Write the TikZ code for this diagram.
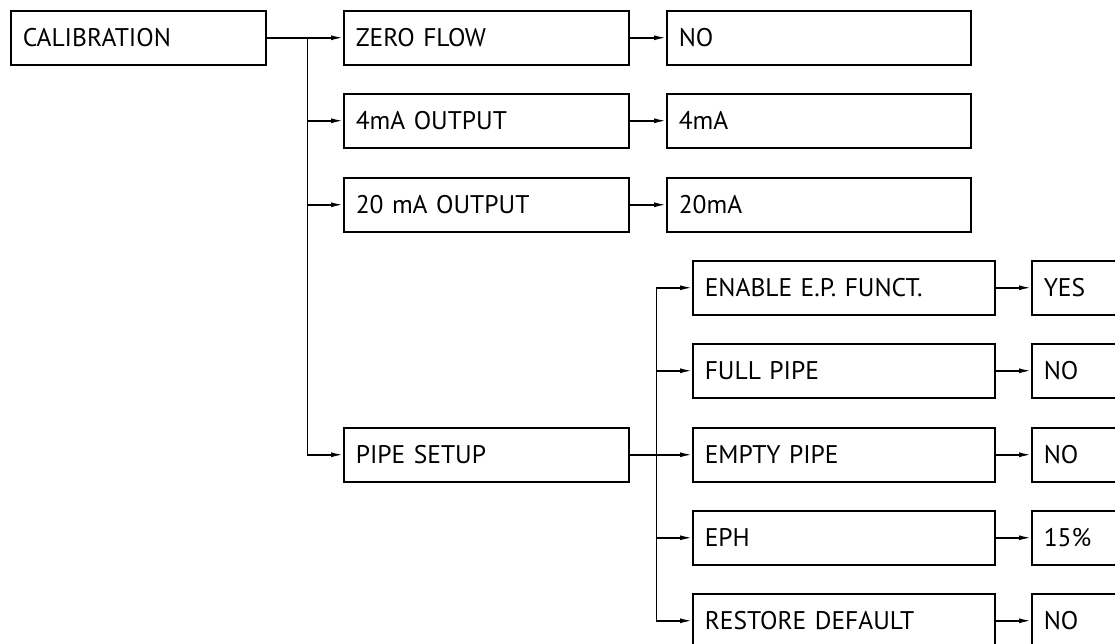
\documentclass[tikz,border=0pt]{standalone}
\usepackage{fontspec}
\setmainfont{PT Sans}
\usetikzlibrary{arrows.meta,calc}
\tikzset{
  box/.style={draw, line width=1.5pt, anchor=north west, minimum height=54pt,
    inner xsep=12pt, inner ysep=0pt, align=left, font=\fontsize{25.5}{30}\selectfont},
  wa/.style={box, text width=231pt},
  wb/.style={box, text width=261pt},
  wc/.style={box, text width=280pt},
  wd/.style={box, text width=278pt},
  we/.style={box, text width=200pt},
  conn/.style={line width=1.5pt},
  arr/.style={conn, -{Latex[length=12pt,width=5pt]}},
}
\begin{document}
\begin{tikzpicture}[x=1pt,y=1pt]
\useasboundingbox (0,0) rectangle (1115,-643);
\clip (0,0) rectangle (1115,-643);
\node[wa] (cal) at (10,-10) {CALIBRATION};
\node[wb] (zf) at (343,-10) {ZERO FLOW};
\node[wb] (m4) at (343,-93) {4mA OUTPUT};
\node[wb] (m20) at (343,-177) {20 mA OUTPUT};
\node[wb] (ps) at (343,-427) {PIPE SETUP};
\node[wc] (v0) at (666,-10) {NO};
\node[wc] (v4) at (666,-93) {4mA};
\node[wc] (v20) at (666,-177) {20mA};
\node[wd] (en) at (692,-260) {ENABLE E.P. FUNCT.};
\node[wd] (fp) at (692,-343) {FULL PIPE};
\node[wd] (ep) at (692,-427) {EMPTY PIPE};
\node[wd] (eph) at (692,-510) {EPH};
\node[wd] (rd) at (692,-593) {RESTORE DEFAULT};
\node[we] (yes) at (1031,-260) {YES};
\node[we] (fpv) at (1031,-343) {NO};
\node[we] (epv) at (1031,-427) {NO};
\node[we] (ephv) at (1031,-510) {15\%};
\node[we] (rdv) at (1031,-593) {NO};
% connectors
\coordinate (b1) at ($(cal.east)+(41,0)$);
\draw[arr] (cal.east) -- (zf.west);
\draw[arr] (b1) |- (ps.west);
\draw[arr] (b1 |- m4.west) -- (m4.west);
\draw[arr] (b1 |- m20.west) -- (m20.west);
\draw[arr] (zf.east) -- (v0.west);
\draw[arr] (m4.east) -- (v4.west);
\draw[arr] (m20.east) -- (v20.west);
\coordinate (b2) at ($(ps.east)+(27,0)$);
\draw[arr] (ps.east) -- (ep.west);
\draw[arr] (b2) |- (en.west);
\draw[arr] (b2) |- (rd.west);
\draw[arr] (b2 |- fp.west) -- (fp.west);
\draw[arr] (b2 |- eph.west) -- (eph.west);
\draw[arr] (en.east) -- (yes.west);
\draw[arr] (fp.east) -- (fpv.west);
\draw[arr] (ep.east) -- (epv.west);
\draw[arr] (eph.east) -- (ephv.west);
\draw[arr] (rd.east) -- (rdv.west);
\end{tikzpicture}
\end{document}
